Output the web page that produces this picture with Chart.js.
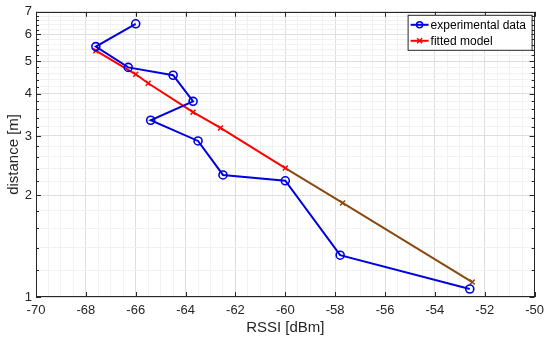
<!DOCTYPE html>
<html>
<head>
<meta charset="utf-8">
<script src="https://cdn.jsdelivr.net/npm/chart.js@4/dist/chart.umd.min.js"></script>
<style>
  body { margin: 0; background: #fff; }
  #wrap { width: 550px; height: 343px; position: relative; }
</style>
</head>
<body>
<div id="wrap"><canvas id="rssiChart"></canvas></div>
<script>
// measured points
const rssiExp = [-66.0, -67.6, -66.3, -64.5, -63.7, -65.4, -63.5, -62.5, -60.0, -57.8, -52.6];
const distExp = [6.45, 5.52, 4.79, 4.54, 3.80, 3.34, 2.90, 2.30, 2.21, 1.33, 1.056];

// fitted path-loss model
const rssiFit = [-67.6, -66.0, -65.5, -63.7, -62.6, -60.0, -57.7, -52.5];
const distFit = [5.37, 4.57, 4.30, 3.53, 3.17, 2.41, 1.90, 1.107];

const xTicks = [-70, -68, -66, -64, -62, -60, -58, -56, -54, -52, -50];
const yTicks = [1, 2, 3, 4, 5, 6, 7];
const seriesNames = ['experimental data', 'fitted model'];

const blue = '#0000e0';
const red = '#ff0000';
const brown = '#8a4a12';
const axisColor = '#262626';
const font = '"Liberation Sans", Arial, Helvetica, sans-serif';

// minor ticks for the log axis
const yMinor = [];
for (let v = 1; v <= 7.001; v += 0.2) yMinor.push(Math.round(v * 10) / 10);

function isMajorY(v) { return Math.abs(v - Math.round(v)) < 1e-6; }

const boxPlugin = {
    id: 'boxAndLegend',
    afterDraw(chart) {
        const ctx = chart.ctx;
        const a = chart.chartArea;
        const xs = chart.scales.x, ys = chart.scales.y;
        ctx.save();
        // tick marks pointing inward
        ctx.strokeStyle = axisColor;
        ctx.lineWidth = 1;
        ctx.beginPath();
        xTicks.forEach(v => {
            const px = Math.round(xs.getPixelForValue(v)) + 0.5;
            ctx.moveTo(px, a.bottom); ctx.lineTo(px, a.bottom - 5);
            ctx.moveTo(px, a.top); ctx.lineTo(px, a.top + 5);
        });
        yMinor.forEach(v => {
            const py = Math.round(ys.getPixelForValue(v)) + 0.5;
            const len = isMajorY(v) ? 5 : 3;
            ctx.moveTo(a.left, py); ctx.lineTo(a.left + len, py);
            ctx.moveTo(a.right, py); ctx.lineTo(a.right - len, py);
        });
        ctx.stroke();
        // frame
        ctx.strokeRect(Math.round(a.left) + 0.5, Math.round(a.top) + 0.5,
            Math.round(a.right - a.left) - 1, Math.round(a.bottom - a.top) - 1);

        // legend box in the upper right corner
        const bw = 124, bh = 35;
        const bx = a.right - bw - 3, by = a.top + 3;
        ctx.fillStyle = '#fff';
        ctx.fillRect(bx, by, bw, bh);
        ctx.strokeStyle = '#262626';
        ctx.strokeRect(bx + 0.5, by + 0.5, bw, bh);
        ctx.font = '12px ' + font;
        ctx.textBaseline = 'middle';
        const rows = [
            { color: blue, mark: 'circle' },
            { color: red, mark: 'cross' }
        ];
        rows.forEach((r, i) => {
            const cy = by + 10 + i * 16;
            ctx.strokeStyle = r.color;
            ctx.lineWidth = 2;
            ctx.beginPath();
            ctx.moveTo(bx + 3, cy); ctx.lineTo(bx + 21, cy);
            ctx.stroke();
            ctx.lineWidth = 1.5;
            ctx.beginPath();
            if (r.mark === 'circle') {
                ctx.arc(bx + 12, cy, 3, 0, Math.PI * 2);
            } else {
                ctx.moveTo(bx + 9.5, cy - 2.5); ctx.lineTo(bx + 14.5, cy + 2.5);
                ctx.moveTo(bx + 14.5, cy - 2.5); ctx.lineTo(bx + 9.5, cy + 2.5);
            }
            ctx.stroke();
            ctx.fillStyle = '#000';
            ctx.fillText(seriesNames[i], bx + 23, cy + 1);
        });
        ctx.restore();
    }
};

const ctx = document.getElementById('rssiChart').getContext('2d');
new Chart(ctx, {
    type: 'line',
    data: {
        datasets: [{
            label: seriesNames[0],
            data: rssiExp.map((x, i) => ({ x: x, y: distExp[i] })),
            borderColor: blue,
            borderWidth: 2,
            pointStyle: 'circle',
            pointRadius: 4,
            pointBorderWidth: 1.6,
            pointBorderColor: blue,
            pointBackgroundColor: 'rgba(0,0,0,0)',
            tension: 0
        }, {
            label: seriesNames[1],
            data: rssiFit.map((x, i) => ({ x: x, y: distFit[i] })),
            borderColor: red,
            borderWidth: 2,
            segment: {
                borderColor: c => c.p0.parsed.x >= -60 ? brown : red
            },
            pointStyle: 'crossRot',
            pointRadius: 3.5,
            pointBorderWidth: 1.5,
            pointBorderColor: c => (c.raw && c.raw.x > -59.9) ? brown : red,
            tension: 0
        }]
    },
    options: {
        responsive: true,
        maintainAspectRatio: false,
        animation: false,
        layout: { padding: { top: 10, right: 15, bottom: 0, left: 0 } },
        plugins: {
            legend: { display: false },
            tooltip: { enabled: false }
        },
        scales: {
            x: {
                type: 'linear',
                min: -70,
                max: -50,
                afterFit: s => { s.height = 46; },
                ticks: {
                    stepSize: 0.5,
                    autoSkip: false,
                    maxRotation: 0,
                    padding: 6,
                    color: axisColor,
                    font: { family: font, size: 13 },
                    callback: v => (xTicks.includes(v) ? String(v) : '')
                },
                grid: {
                    drawTicks: false,
                    color: c => (xTicks.includes(c.tick.value) ? '#dedede' : '#f1f1f1')
                },
                border: { display: false },
                title: {
                    display: true,
                    text: 'RSSI [dBm]',
                    color: axisColor,
                    font: { family: font, size: 15 },
                    padding: { top: 0, bottom: 6 }
                }
            },
            y: {
                type: 'logarithmic',
                min: 1,
                max: 7,
                afterFit: s => { s.width = 36; },
                afterBuildTicks: s => { s.ticks = yMinor.map(v => ({ value: v })); },
                ticks: {
                    autoSkip: false,
                    padding: 4,
                    color: axisColor,
                    font: { family: font, size: 13 },
                    callback: v => (yTicks.includes(v) ? String(v) : '')
                },
                grid: {
                    drawTicks: false,
                    color: c => (isMajorY(c.tick.value) ? '#dedede' : '#f1f1f1')
                },
                border: { display: false },
                title: {
                    display: true,
                    text: 'distance [m]',
                    color: axisColor,
                    font: { family: font, size: 15 },
                    padding: { top: 5, bottom: 0 }
                }
            }
        }
    },
    plugins: [boxPlugin]
});
</script>
</body>
</html>
